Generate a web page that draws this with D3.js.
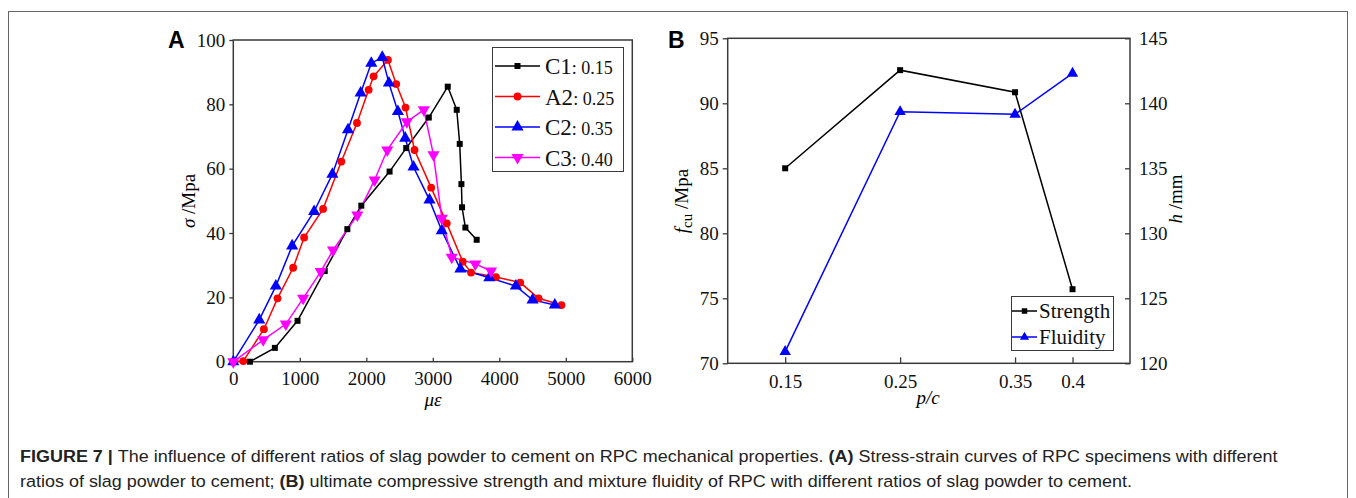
<!DOCTYPE html>
<html><head><meta charset="utf-8">
<script src="https://cdn.jsdelivr.net/npm/d3@7"></script>
<style>body{margin:0;background:#fff}svg{display:block}</style>
</head><body>
<svg id="c" width="1356" height="498"></svg>
<script>
// ---------- DATA ----------
const seriesNamesA = ["C1", "A2", "C2", "C3"];
const seriesRatiosA = [": 0.15", ": 0.25", ": 0.35", ": 0.40"];
const c1Strain = [250, 625, 966, 1375, 1715, 1925, 2350, 2600, 2940, 3225, 3360, 3405, 3430, 3440, 3490, 3660];
const c1Stress = [0, 4.3, 12.7, 28.2, 41.2, 48.5, 59.1, 66.4, 75.9, 85.5, 78.3, 67.7, 55.2, 48.0, 41.7, 37.9];
const a2Strain = [0, 150, 460, 665, 900, 1065, 1350, 1625, 1860, 2035, 2110, 2325, 2450, 2590, 2725, 2975, 3210, 3450, 3575, 3950, 4315, 4590, 4935];
const a2Stress = [0, 0.2, 10.1, 19.7, 29.2, 38.6, 47.5, 62.2, 74.2, 84.5, 88.7, 93.8, 86.3, 79.0, 65.8, 54.1, 43.0, 31.1, 27.7, 26.3, 24.6, 19.7, 17.6];
const c2Strain = [0, 390, 640, 885, 1215, 1490, 1725, 1915, 2075, 2240, 2340, 2475, 2585, 2710, 2950, 3135, 3415, 3850, 4250, 4500, 4835];
const c2Stress = [0, 13.0, 23.5, 36.0, 46.7, 58.3, 72.1, 83.5, 92.8, 94.6, 86.6, 77.8, 69.5, 60.5, 50.3, 40.7, 28.8, 26.1, 23.5, 19.2, 17.6];
const c3Strain = [0, 450, 790, 1050, 1315, 1500, 1865, 2125, 2315, 2610, 2865, 3010, 3135, 3285, 3640, 3875];
const c3Stress = [0, 6.8, 11.7, 19.7, 28.0, 34.7, 45.6, 56.5, 65.8, 74.6, 78.3, 64.3, 44.6, 32.5, 30.4, 28.2];
const xTicksA = [0, 1000, 2000, 3000, 4000, 5000, 6000];
const yTicksA = [0, 20, 40, 60, 80, 100];

const ratiosB = [0.15, 0.25, 0.35, 0.4];
const xTickLabelsB = ["0.15", "0.25", "0.35", "0.4"];
const strengthB = [85.0, 92.55, 90.85, 75.7];
const fluidityB = [120.9, 139.35, 139.15, 142.3];
const yTicksBLeft = [70, 75, 80, 85, 90, 95];
const yTicksBRight = [120, 125, 130, 135, 140, 145];
const legendB = ["Strength", "Fluidity"];

const captionLine1 = [["FIGURE 7 | ", true], ["The influence of different ratios of slag powder to cement on RPC mechanical properties. ", false], ["(A)", true], [" Stress-strain curves of RPC specimens with different", false]];
const captionLine2 = [["ratios of slag powder to cement; ", false], ["(B)", true], [" ultimate compressive strength and mixture fluidity of RPC with different ratios of slag powder to cement.", false]];

// ---------- STYLE ----------
const serif = "Liberation Serif, Times New Roman, serif";
const sans = "Liberation Sans, Arial, sans-serif";
const axisCol = "#3a3a3a";
const colorsA = ["#000000", "#ff0000", "#0000ff", "#ff00ff"];
const symbolsA = [d3.symbolSquare, d3.symbolCircle, d3.symbolTriangle, "down"];

const svg = d3.select("#c");

// outer frame
svg.append("rect").attr("x", 8.5).attr("y", 11.5).attr("width", 1339).attr("height", 520)
  .attr("fill", "none").attr("stroke", "#666").attr("stroke-width", 1);

function marker(g, type, x, y, color, size) {
  if (type === "down") {
    g.append("path").attr("d", d3.symbol(d3.symbolTriangle, size)())
      .attr("transform", `translate(${x},${y}) rotate(180)`).attr("fill", color);
  } else {
    g.append("path").attr("d", d3.symbol(type, size)())
      .attr("transform", `translate(${x},${y})`).attr("fill", color);
  }
}

function styleAxis(g) {
  g.attr("font-family", null).attr("font-size", null);
  g.style("font-family", serif).style("font-size", "19px");
  g.selectAll(".domain").remove();
  g.selectAll("line").attr("stroke", axisCol).attr("stroke-width", 1.3);
  g.selectAll("text").style("font-family", serif).style("font-size", "19px").attr("fill", "#111");
}

// ---------- PANEL A ----------
const xA = d3.scaleLinear().domain([0, 6000]).range([233.3, 632.3]);
const yA = d3.scaleLinear().domain([0, 100]).range([361.7, 40]);
const gA = svg.append("g");

const axXA = gA.append("g").attr("transform", `translate(0,${yA(0)})`)
  .call(d3.axisBottom(xA).tickValues(xTicksA).tickSize(-4).tickPadding(10).tickFormat(d3.format("d")));
styleAxis(axXA);
const axYA = gA.append("g").attr("transform", `translate(${xA(0)},0)`)
  .call(d3.axisLeft(yA).tickValues(yTicksA).tickSize(4).tickPadding(4).tickFormat(d3.format("d")));
styleAxis(axYA);
gA.append("rect").attr("x", xA(0)).attr("y", yA(100)).attr("width", xA(6000) - xA(0)).attr("height", yA(0) - yA(100))
  .attr("fill", "none").attr("stroke", axisCol).attr("stroke-width", 1.5);

const dataA = [[c1Strain, c1Stress], [a2Strain, a2Stress], [c2Strain, c2Stress], [c3Strain, c3Stress]];
const lineGen = d3.line();
const sizesA = [36, 48, 64, 64];
dataA.forEach(([xs, ys], i) => {
  const pts = xs.map((v, k) => [xA(v), yA(ys[k])]);
  gA.append("path").attr("d", lineGen(pts)).attr("fill", "none").attr("stroke", colorsA[i]).attr("stroke-width", 1.5);
});
dataA.forEach(([xs, ys], i) => {
  xs.forEach((v, k) => marker(gA, symbolsA[i], xA(v), yA(ys[k]), colorsA[i], sizesA[i]));
});

// legend A
const lgA = gA.append("g");
lgA.append("rect").attr("x", 492.5).attr("y", 47.5).attr("width", 131).attr("height", 124)
  .attr("fill", "#fff").attr("stroke", axisCol).attr("stroke-width", 1);
seriesNamesA.forEach((n, i) => {
  const yy = 66 + i * 30.5;
  lgA.append("line").attr("x1", 495).attr("x2", 540).attr("y1", yy).attr("y2", yy).attr("stroke", colorsA[i]).attr("stroke-width", 1.5);
  marker(lgA, symbolsA[i], 517.5, yy, colorsA[i], sizesA[i]);
  const t = lgA.append("text").attr("x", 545).attr("y", yy + 8).style("font-family", serif).attr("fill", "#111");
  t.append("tspan").style("font-size", "23px").text(n);
  t.append("tspan").style("font-size", "18px").text(seriesRatiosA[i]);
});

gA.append("text").attr("x", 168).attr("y", 48).style("font-family", sans).attr("font-weight", "bold").style("font-size", "23px").text("A");
const ylA = gA.append("text").attr("transform", "translate(195,201) rotate(-90)").attr("text-anchor", "middle")
  .style("font-family", serif).style("font-size", "19px");
ylA.append("tspan").attr("font-style", "italic").text("σ");
ylA.append("tspan").text(" /Mpa");
gA.append("text").attr("x", 433).attr("y", 406).attr("text-anchor", "middle").style("font-family", serif)
  .attr("font-style", "italic").style("font-size", "19px").text("με");

// ---------- PANEL B ----------
const xB = d3.scaleLinear().domain([0.1, 0.45]).range([727.7, 1130]);
const yBL = d3.scaleLinear().domain([70, 95]).range([363.3, 38.3]);
const yBR = d3.scaleLinear().domain([120, 145]).range([363.3, 38.3]);
const gB = svg.append("g");

const axXB = gB.append("g").attr("transform", `translate(0,${yBL(70)})`)
  .call(d3.axisBottom(xB).tickValues(ratiosB).tickSize(-6).tickPadding(11).tickFormat((d, i) => xTickLabelsB[i]));
styleAxis(axXB);
const axYBL = gB.append("g").attr("transform", `translate(${xB(0.1)},0)`)
  .call(d3.axisLeft(yBL).tickValues(yTicksBLeft).tickSize(5).tickPadding(4).tickFormat(d3.format("d")));
styleAxis(axYBL);
const axYBR = gB.append("g").attr("transform", `translate(${xB(0.45)},0)`)
  .call(d3.axisRight(yBR).tickValues(yTicksBRight).tickSize(-5).tickPadding(9).tickFormat(d3.format("d")));
styleAxis(axYBR);
gB.append("rect").attr("x", xB(0.1)).attr("y", yBL(95)).attr("width", xB(0.45) - xB(0.1)).attr("height", yBL(70) - yBL(95))
  .attr("fill", "none").attr("stroke", axisCol).attr("stroke-width", 1.5);

const sPts = ratiosB.map((r, i) => [xB(r), yBL(strengthB[i])]);
const fPts = ratiosB.map((r, i) => [xB(r), yBR(fluidityB[i])]);
gB.append("path").attr("d", lineGen(sPts)).attr("fill", "none").attr("stroke", "#000").attr("stroke-width", 1.5);
gB.append("path").attr("d", lineGen(fPts)).attr("fill", "none").attr("stroke", "#0000ff").attr("stroke-width", 1.5);
sPts.forEach(p => marker(gB, d3.symbolSquare, p[0], p[1], "#000", 36));
fPts.forEach(p => marker(gB, d3.symbolTriangle, p[0], p[1], "#0000ff", 56));

const lgB = gB.append("g");
lgB.append("rect").attr("x", 1011.5).attr("y", 296.5).attr("width", 102).attr("height", 54)
  .attr("fill", "#fff").attr("stroke", axisCol).attr("stroke-width", 1);
legendB.forEach((n, i) => {
  const yy = 311 + i * 26;
  const col = i === 0 ? "#000" : "#0000ff";
  lgB.append("line").attr("x1", 1012).attr("x2", 1037).attr("y1", yy).attr("y2", yy).attr("stroke", col).attr("stroke-width", 1.5);
  marker(lgB, i === 0 ? d3.symbolSquare : d3.symbolTriangle, 1024.5, yy, col, i === 0 ? 30 : 36);
  lgB.append("text").attr("x", 1039).attr("y", yy + 7).style("font-family", serif).style("font-size", "21px").attr("fill", "#111").text(n);
});

gB.append("text").attr("x", 668).attr("y", 48).style("font-family", sans).attr("font-weight", "bold").style("font-size", "23px").text("B");
const ylB = gB.append("text").attr("transform", "translate(688,201) rotate(-90)").attr("text-anchor", "middle")
  .style("font-family", serif).style("font-size", "19px");
ylB.append("tspan").attr("font-style", "italic").text("f");
ylB.append("tspan").style("font-size", "15px").attr("dy", 4).text("cu");
ylB.append("tspan").attr("dy", -4).text(" /Mpa");
const yrB = gB.append("text").attr("transform", "translate(1182,199) rotate(-90)").attr("text-anchor", "middle")
  .style("font-family", serif).style("font-size", "19px");
yrB.append("tspan").attr("font-style", "italic").text("h");
yrB.append("tspan").text(" /mm");
gB.append("text").attr("x", 928).attr("y", 404).attr("text-anchor", "middle").style("font-family", serif)
  .attr("font-style", "italic").style("font-size", "19px").text("p/c");

// ---------- CAPTION (condensed sans: horizontally compressed to the reference width) ----------
const capFont = "Liberation Sans, Arial, sans-serif";
const capSize = 17;
function captionLine(parts) {
  const g = svg.append("g");
  const t = g.append("text").attr("x", 0).attr("y", 0).style("font-family", capFont).style("font-size", capSize + "px").attr("fill", "#222");
  parts.forEach(([s, b]) => t.append("tspan").attr("font-weight", b ? "bold" : "normal").text(s));
  return [g, t];
}
const [g1, t1] = captionLine(captionLine1);
const w1 = t1.node().getComputedTextLength();
const sx = 1258 / w1;
g1.attr("transform", `translate(20,462) scale(${sx},1)`);
const [g2] = captionLine(captionLine2);
g2.attr("transform", `translate(20,487) scale(${sx},1)`);
</script>
</body></html>
